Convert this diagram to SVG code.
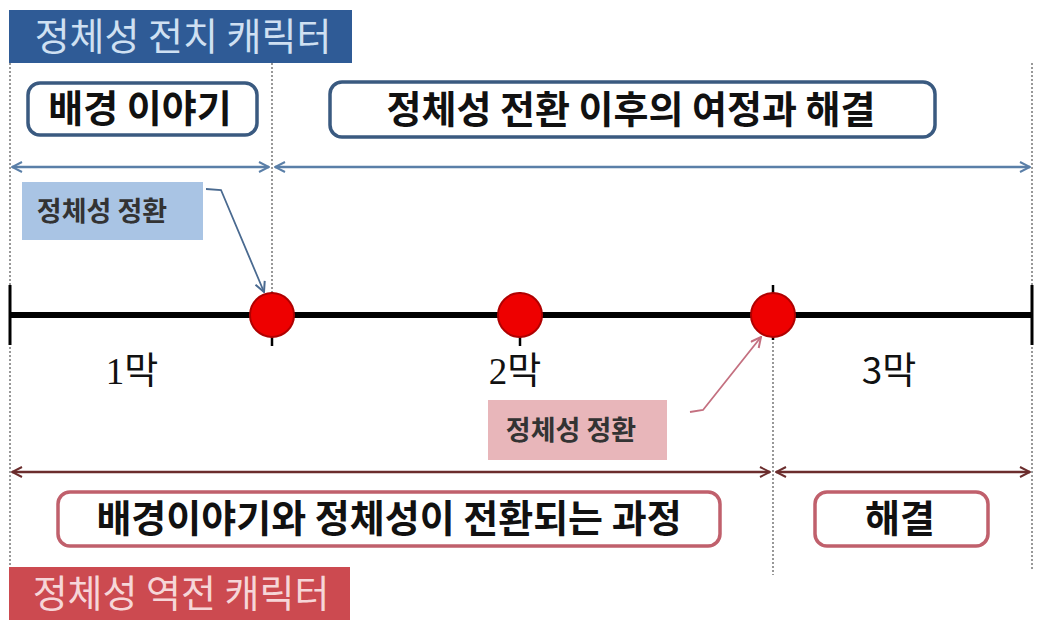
<svg xmlns="http://www.w3.org/2000/svg" width="1052" height="625" viewBox="0 0 1052 625">
<defs>
<style>
.kr{font-family:"Noto Sans CJK KR","Noto Sans",sans-serif;}
.bn{font-size:38px;}
.bx{font-size:38px;font-weight:bold;fill:#111;}
.lb{font-size:27px;font-weight:bold;fill:#333;}
.act{font-size:37px;fill:#111;}
.dot{stroke:#777;stroke-width:1.5;stroke-dasharray:2 2;fill:none;}
.bbox{fill:#fff;stroke:#3a5a80;stroke-width:3.5;}
.rbox{fill:#fff;stroke:#c0606c;stroke-width:3.5;}
.bl{stroke:#5a7fa8;stroke-width:2.5;fill:none;}
.rl{stroke:#6b2d2d;stroke-width:2.5;fill:none;}
.dot2{fill:#ee0000;stroke:#b00000;stroke-width:2;}
</style>
<marker id="ab" viewBox="0 0 12 12" refX="11" refY="6" markerWidth="12" markerHeight="12" markerUnits="userSpaceOnUse" orient="auto-start-reverse"><path d="M1,1 L11,6 L1,11" fill="none" stroke="#5a7fa8" stroke-width="2"/></marker>
<marker id="ar" viewBox="0 0 12 12" refX="11" refY="6" markerWidth="12" markerHeight="12" markerUnits="userSpaceOnUse" orient="auto-start-reverse"><path d="M1,1 L11,6 L1,11" fill="none" stroke="#6b2d2d" stroke-width="2"/></marker>
<marker id="cb" viewBox="0 0 12 12" refX="11" refY="6" markerWidth="12" markerHeight="12" markerUnits="userSpaceOnUse" orient="auto"><path d="M1,1 L11,6 L1,11" fill="none" stroke="#4a6a90" stroke-width="2"/></marker>
<marker id="cr" viewBox="0 0 12 12" refX="11" refY="6" markerWidth="12" markerHeight="12" markerUnits="userSpaceOnUse" orient="auto"><path d="M1,1 L11,6 L1,11" fill="none" stroke="#c47080" stroke-width="2"/></marker>
</defs>
<rect width="1052" height="625" fill="#fff"/>
<g id="guides">
<line class="dot" x1="10" y1="63" x2="10" y2="570"/>
<line class="dot" x1="272" y1="63" x2="272" y2="300"/>
<line class="dot" x1="1032" y1="63" x2="1032" y2="570"/>
<line class="dot" x1="773" y1="330" x2="773" y2="575"/>
</g>
<g id="top-banner">
<rect x="9" y="10" width="343" height="53" fill="#2f5b96"/>
<text class="kr bn" x="183" y="50" text-anchor="middle" fill="#cfe0f2">정체성 전치 캐릭터</text>
</g>
<g id="bottom-banner">
<rect x="9" y="567" width="341" height="53" fill="#cc4a50"/>
<text class="kr bn" x="181" y="607" text-anchor="middle" fill="#f6d6d8">정체성 역전 캐릭터</text>
</g>
<g id="box-backstory">
<rect class="bbox" x="28" y="83" width="229" height="52" rx="12"/>
<text class="kr bx" x="140" y="122" text-anchor="middle">배경 이야기</text>
</g>
<g id="box-journey">
<rect class="bbox" x="330" y="82" width="605" height="55" rx="12"/>
<text class="kr bx" x="631" y="123" text-anchor="middle">정체성 전환 이후의 여정과 해결</text>
</g>
<g id="label-blue">
<rect x="22" y="182" width="181" height="58" fill="#a9c4e4"/>
<text class="kr lb" x="102" y="221" text-anchor="middle">정체성 정환</text>
</g>
<g id="label-pink">
<rect x="488" y="400" width="179" height="60" fill="#e8b6ba"/>
<text class="kr lb" x="571" y="440" text-anchor="middle">정체성 정환</text>
</g>
<g id="box-process">
<rect class="rbox" x="58" y="492" width="662" height="54" rx="12"/>
<text class="kr bx" x="389" y="532" text-anchor="middle">배경이야기와 정체성이 전환되는 과정</text>
</g>
<g id="box-resolution">
<rect class="rbox" x="815" y="492" width="173" height="54" rx="12"/>
<text class="kr bx" x="900" y="532" text-anchor="middle">해결</text>
</g>
<g id="connectors">
<line class="bl" x1="12" y1="167" x2="269" y2="167" marker-start="url(#ab)" marker-end="url(#ab)"/>
<line class="bl" x1="275" y1="167" x2="1030" y2="167" marker-start="url(#ab)" marker-end="url(#ab)"/>
<line class="rl" x1="12" y1="472" x2="770" y2="472" marker-start="url(#ar)" marker-end="url(#ar)"/>
<line class="rl" x1="776" y1="472" x2="1030" y2="472" marker-start="url(#ar)" marker-end="url(#ar)"/>
<path d="M206,189 L221,190 L264,292" fill="none" stroke="#4a6a90" stroke-width="1.8" marker-end="url(#cb)"/>
<path d="M690,412 L703,410 L761,337" fill="none" stroke="#c47080" stroke-width="1.8" marker-end="url(#cr)"/>
</g>
<g id="timeline">
<line x1="10" y1="315" x2="1032" y2="315" stroke="#000" stroke-width="6"/>
<line x1="10" y1="285" x2="10" y2="345" stroke="#000" stroke-width="3"/>
<line x1="1032" y1="285" x2="1032" y2="345" stroke="#000" stroke-width="3"/>
<line x1="272" y1="292" x2="272" y2="346" stroke="#000" stroke-width="2.5"/>
<line x1="520" y1="292" x2="520" y2="346" stroke="#000" stroke-width="2.5"/>
<line x1="773" y1="285" x2="773" y2="340" stroke="#000" stroke-width="2.5"/>
</g>
<g id="point-1"><circle class="dot2" cx="272" cy="315" r="22"/></g>
<g id="point-2"><circle class="dot2" cx="520" cy="315" r="22"/></g>
<g id="point-3"><circle class="dot2" cx="773" cy="315" r="22"/></g>
<g id="act-labels">
<text class="act" x="132" y="384" text-anchor="middle" style="font-family:'Liberation Serif','Noto Sans CJK KR',serif">1막</text>
<text class="act" x="515" y="384" text-anchor="middle" style="font-family:'Liberation Serif','Noto Sans CJK KR',serif">2막</text>
<text class="act kr" x="889" y="384" text-anchor="middle">3막</text>
</g>
</svg>
